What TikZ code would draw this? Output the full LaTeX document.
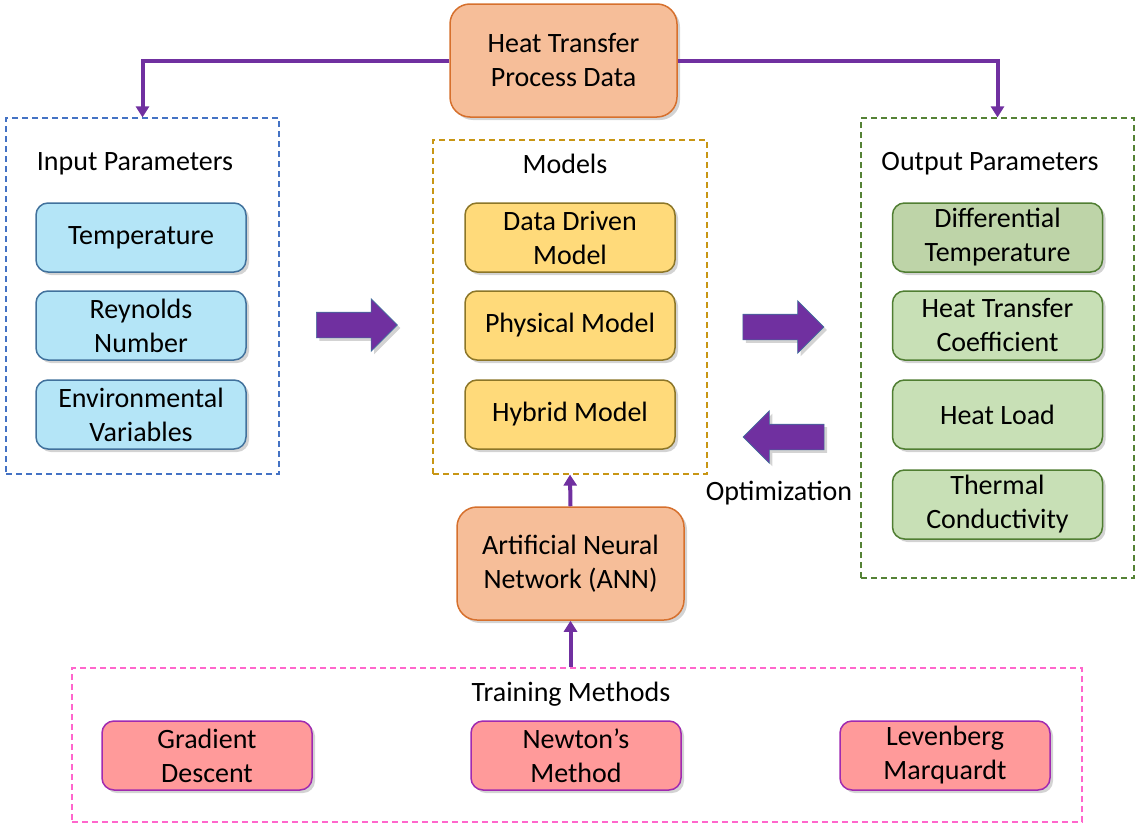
\documentclass[tikz,border=0pt]{standalone}
\usepackage{fontspec}
\setmainfont{Carlito}
\usepackage{tikz}
\definecolor{flowpurple}{RGB}{112, 48, 160}
\definecolor{peachfill}{RGB}{246, 190, 153}
\definecolor{peachdraw}{RGB}{214, 112, 45}
\definecolor{bluefill}{RGB}{180, 229, 247}
\definecolor{bluedraw}{RGB}{65, 113, 156}
\definecolor{yellowfill}{RGB}{255, 218, 122}
\definecolor{yellowdraw}{RGB}{140, 118, 40}
\definecolor{greenfill}{RGB}{200, 224, 182}
\definecolor{greendark}{RGB}{190, 212, 168}
\definecolor{greendraw}{RGB}{80, 126, 50}
\definecolor{pinkfill}{RGB}{255, 154, 154}
\definecolor{pinkdraw}{RGB}{160, 42, 176}
\definecolor{frameblue}{RGB}{68, 114, 196}
\definecolor{framegold}{RGB}{200, 150, 20}
\definecolor{framegreen}{RGB}{84, 130, 53}
\definecolor{framepink}{RGB}{255, 102, 204}
\usetikzlibrary{arrows.meta, shadows, shapes.arrows}

\begin{document}
\begin{tikzpicture}[x=1pt, y=-1pt,
			font=\fontsize{28}{34}\selectfont,
			box/.style={draw, rounded corners=12pt, line width=1.5pt, align=center,
				minimum width=210pt, minimum height=69pt, inner sep=2pt,
				drop shadow={opacity=0.35, shadow xshift=3pt, shadow yshift=-3pt}},
			bigbox/.style={box, rounded corners=20pt, minimum width=227pt, minimum height=113pt,
				fill=peachfill, draw=peachdraw},
			inbox/.style={box, fill=bluefill, draw=bluedraw},
			modbox/.style={box, fill=yellowfill, draw=yellowdraw},
			outbox/.style={box, fill=greenfill, draw=greendraw},
			trainbox/.style={box, fill=pinkfill, draw=pinkdraw},
			frame/.style={draw, dashed, line width=1.2pt, dash pattern=on 6pt off 4pt, inner sep=0pt},
			flow/.style={draw=flowpurple, line width=4pt, -{Triangle[width=13pt, length=11pt]}},
			fat/.style={single arrow, fill=flowpurple, draw=bluedraw, line width=0.6pt, inner sep=0pt,
				minimum height=81pt, minimum width=52pt, single arrow head extend=13.5pt,
				single arrow head indent=0pt, text height=25pt,
				drop shadow={opacity=0.35, shadow xshift=3pt, shadow yshift=-3pt}}]
			\useasboundingbox (0,0) rectangle (1138,827);
			% Rahmen
			\node[frame, draw=frameblue, minimum width=273pt, minimum height=356pt] (inframe) at (142.5,296) {};
			\node[frame, draw=framegold, minimum width=274pt, minimum height=334pt] (modframe) at (570,307) {};
			\node[frame, draw=framegreen, minimum width=273pt, minimum height=460pt] (outframe) at (997.5,348) {};
			\node[frame, draw=framepink, minimum width=1010pt, minimum height=154pt] (trainframe) at (577,745) {};
			% Titel
			\node (intitle) at (135,164) {Input Parameters};
			\node (modtitle) at (565,164) {Models};
			\node (outtitle) at (990,164) {Output Parameters};
			\node (traintitle) at (571,694) {Training Methods};
			\node (opt) at (779,493) {Optimization};
			% Kästen
			\node[bigbox] (hdata) at (563.5,60.5) {Heat Transfer\\Process Data};
			\node[bigbox] (ann) at (570.5,563.5) {Artificial Neural\\Network (ANN)};
			\node[inbox] (temp) at (141,237.5) {Temperature};
			\node[inbox] (reyn) at (141,325.5) {Reynolds\\Number};
			\node[inbox] (envi) at (141,414.5) {Environmental\\Variables};
			\node[modbox] (ddm) at (570,237.5) {Data Driven\\Model};
			\node[modbox] (phm) at (570,325.5) {Physical Model};
			\node[modbox] (hym) at (570,414.5) {Hybrid Model};
			\node[outbox, fill=greendark] (dtemp) at (997.5,237.5) {Differential\\Temperature};
			\node[outbox] (htc) at (997.5,325.5) {Heat Transfer\\Coefficient};
			\node[outbox] (hload) at (997.5,414.5) {Heat Load};
			\node[outbox] (tcond) at (997.5,504.5) {Thermal\\Conductivity};
			\node[trainbox] (grad) at (207,755.5) {Gradient\\Descent};
			\node[trainbox] (newt) at (576,755.5) {Newton’s\\Method};
			\node[trainbox] (leve) at (945,755.5) {Levenberg\\Marquardt};
			% dicke Pfeile
			\node[fat] (fat1) at (350.5,325) {};
			\node[fat] (fat2) at (777,327) {};
			\node[fat, shape border rotate=180] (fat3) at (790,437) {};
			% Verbindungen
			\draw[flow] (hdata.west) -| (inframe.north);
			\draw[flow] (hdata.east) -| (outframe.north);
			\draw[flow] (ann.north) -- (modframe.south);
			\draw[flow] (ann.south |- trainframe.north) -- (ann.south);
		\end{tikzpicture}
\end{document}
